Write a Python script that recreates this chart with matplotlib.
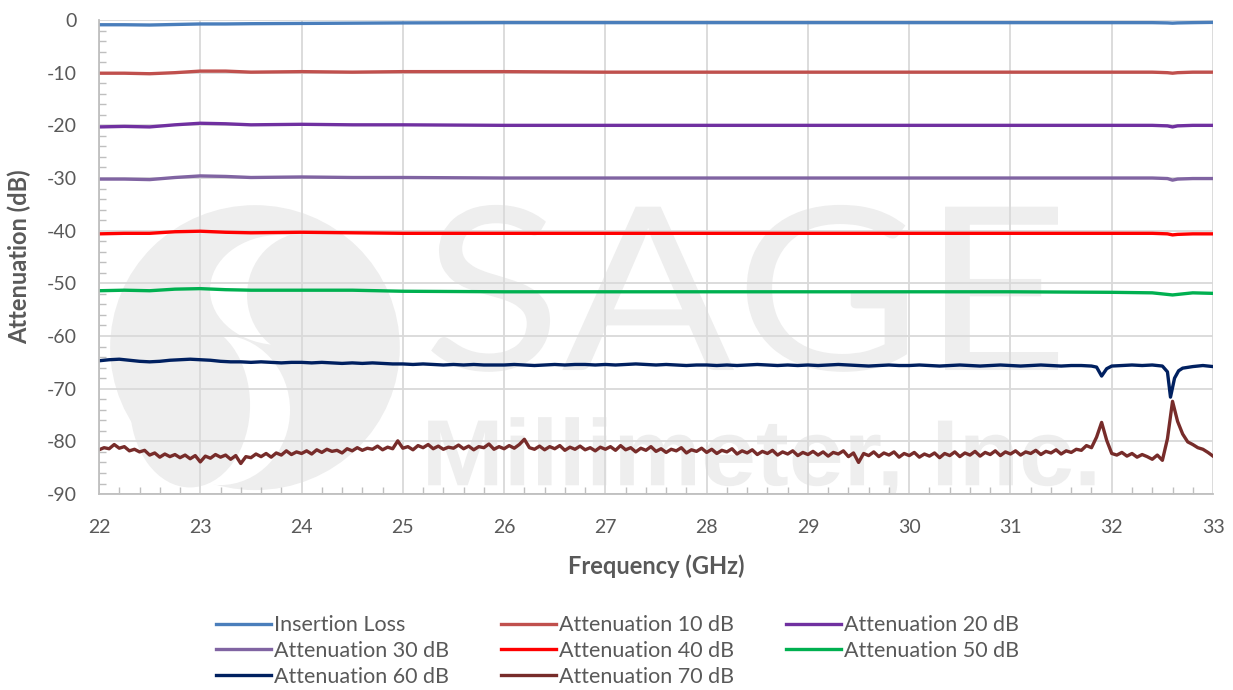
import numpy as np
import matplotlib.pyplot as plt
from matplotlib.patches import Ellipse, PathPatch
from matplotlib.textpath import TextPath
from matplotlib.font_manager import FontProperties
from matplotlib.transforms import Affine2D
from matplotlib.ticker import MultipleLocator

plt.rcParams['font.family'] = ['Lato', 'DejaVu Sans']
plt.rcParams['axes.unicode_minus'] = False

# smooth traces, coarse frequency grid (GHz)
freq_s = [22, 22.25, 22.5, 22.75, 23, 23.25, 23.5, 24, 24.5, 25, 26, 27, 28, 29, 30, 31, 32,
          32.4, 32.55, 32.6, 32.65, 32.8, 33]
il = [-0.9, -0.9, -0.95, -0.85, -0.75, -0.75, -0.7, -0.65, -0.6, -0.55, -0.5, -0.5, -0.5, -0.5,
      -0.5, -0.5, -0.5, -0.5, -0.55, -0.6, -0.55, -0.5, -0.45]
att10 = [-10.1, -10.1, -10.2, -10.0, -9.7, -9.7, -9.9, -9.8, -9.9, -9.8, -9.8, -9.9, -9.9, -9.9,
         -9.9, -9.9, -9.9, -9.9, -10.0, -10.1, -10.0, -9.9, -9.9]
att20 = [-20.3, -20.2, -20.3, -19.9, -19.6, -19.7, -19.9, -19.8, -19.9, -19.9, -20.0, -20.0, -20.0,
         -20.0, -20.0, -20.0, -20.0, -20.0, -20.1, -20.3, -20.1, -20.0, -20.0]
att30 = [-30.2, -30.2, -30.3, -29.9, -29.6, -29.7, -29.9, -29.8, -29.9, -29.9, -30.0, -30.0, -30.0,
         -30.0, -30.0, -30.0, -30.0, -30.0, -30.1, -30.4, -30.2, -30.1, -30.1]
att40 = [-40.6, -40.5, -40.5, -40.2, -40.1, -40.3, -40.4, -40.3, -40.4, -40.5, -40.5, -40.5, -40.5,
         -40.5, -40.5, -40.5, -40.5, -40.5, -40.6, -40.8, -40.7, -40.6, -40.6]
att50 = [-51.4, -51.3, -51.4, -51.1, -51.0, -51.2, -51.3, -51.3, -51.3, -51.5, -51.6, -51.6, -51.6,
         -51.6, -51.6, -51.6, -51.7, -51.8, -52.1, -52.2, -52.1, -51.8, -51.9]

# 60 dB trace
freq60 = list(np.round(np.arange(22, 31.85, 0.1), 2)) + [31.85, 31.9, 31.95, 32.0, 32.1, 32.2, 32.3,
          32.4, 32.5, 32.55, 32.58, 32.62, 32.66, 32.7, 32.8, 32.9, 33.0]
att60 = [-64.7, -64.5, -64.4, -64.6, -64.8, -64.9, -64.8, -64.6, -64.5, -64.4,
         -64.5, -64.6, -64.8, -64.9, -64.9, -65.0, -64.9, -65.0, -65.1, -65.0,
         -65.0, -65.1, -65.0, -65.1, -65.2, -65.1, -65.2, -65.1, -65.2, -65.3,
         -65.3, -65.4, -65.3, -65.4, -65.5, -65.4, -65.5, -65.4, -65.5, -65.5,
         -65.5, -65.4, -65.5, -65.6, -65.5, -65.4, -65.5, -65.4, -65.4, -65.5,
         -65.4, -65.5, -65.4, -65.3, -65.4, -65.5, -65.4, -65.5, -65.6, -65.5,
         -65.5, -65.6, -65.5, -65.6, -65.5, -65.4, -65.5, -65.6, -65.5, -65.6,
         -65.5, -65.6, -65.5, -65.4, -65.5, -65.6, -65.7, -65.6, -65.5, -65.6,
         -65.6, -65.5, -65.6, -65.7, -65.6, -65.5, -65.6, -65.7, -65.6, -65.5,
         -65.6, -65.7, -65.6, -65.5, -65.6, -65.7, -65.6, -65.6, -65.7,
         -65.9, -67.6, -66.2, -65.7, -65.6, -65.5, -65.6, -65.5, -65.7, -66.8, -71.6, -68.0, -66.6,
         -66.1, -65.8, -65.6, -65.8]

# 70 dB trace, 0.05 GHz steps
freq70 = np.round(np.arange(22, 33.001, 0.05), 2)
att70 = [-81.6, -81.2, -81.4, -80.6, -81.3, -81.0, -81.8, -81.5, -82.0, -81.7, -82.6, -82.2, -83.0, -82.4, -82.9, -82.5, -83.1, -82.6, -83.3, -82.7,
         -83.9, -82.8, -83.2, -82.5, -83.0, -82.6, -83.4, -82.7, -84.2, -82.9, -83.1, -82.4, -82.9, -82.3, -83.0, -82.2, -82.6, -81.8, -82.5, -82.0,
         -82.3, -81.8, -82.4, -81.6, -82.1, -81.5, -81.9, -81.7, -82.2, -81.4, -81.8, -81.2, -81.7, -81.3, -81.5, -80.9, -81.6, -81.1, -81.4, -79.9,
         -81.3, -81.0, -81.6, -80.8, -81.2, -80.6, -81.4, -80.9, -81.5, -81.1, -81.3, -80.7, -81.4, -80.9, -81.6, -81.0, -81.2, -80.5, -81.5, -81.0,
         -81.4, -80.8, -81.3, -80.6, -79.6, -81.2, -81.5, -80.9, -81.6, -81.0, -81.4, -80.8, -81.7, -81.1, -81.5, -80.9, -81.6, -81.2, -81.8, -81.1,
         -81.5, -81.0, -81.7, -80.8, -81.6, -81.2, -82.0, -81.3, -81.7, -81.0, -81.9, -81.4, -82.1, -81.5, -81.8, -81.2, -82.2, -81.6, -81.9, -81.3,
         -82.1, -81.5, -82.3, -81.7, -82.0, -81.4, -82.4, -81.8, -82.2, -81.6, -82.5, -81.9, -82.3, -81.7, -82.6, -82.0, -82.4, -81.8, -82.7, -82.1,
         -82.5, -81.9, -82.6, -82.0, -82.8, -82.1, -82.4, -81.8, -82.9, -82.2, -84.0, -82.3, -82.7, -82.0, -82.9, -82.2, -82.6, -82.0, -83.0, -82.3,
         -82.7, -82.1, -83.0, -82.4, -82.8, -82.2, -83.1, -82.3, -82.7, -82.0, -82.9, -82.2, -82.6, -81.9, -82.8, -82.1, -82.5, -81.8, -82.7, -82.0,
         -82.4, -81.8, -82.6, -82.0, -82.3, -81.7, -82.5, -81.9, -82.2, -81.6, -82.4, -81.8, -82.1, -81.5, -81.7, -80.8, -81.2, -79.2, -76.4, -79.8,
         -82.3, -82.6, -82.1, -82.8, -82.3, -83.0, -82.5, -82.9, -83.4, -82.6, -83.6, -79.5, -72.4, -76.2, -78.6, -80.1, -80.6, -81.2, -81.5, -82.1,
         -82.8]

fig, ax = plt.subplots(figsize=(12.33, 6.9), dpi=100)
fig.subplots_adjust(left=0.0803, right=0.9838, top=0.971, bottom=0.284)


def text_in_box(s, prop, x0, x1, y0, y1, color):
    # stretch a text outline so it fills a box given in data coordinates
    tp = TextPath((0, 0), s, size=1, prop=prop)
    bb = tp.get_extents()
    tr = Affine2D().translate(-bb.x0, -bb.y0).scale((x1 - x0) / bb.width, (y1 - y0) / bb.height)
    tr = tr.translate(x0, y0)
    ax.add_patch(PathPatch(tr.transform_path(tp), color=color, lw=0, zorder=0))


# watermark logo: grey disc with a white S-shaped swirl
wm = '#eeeeee'
ax.add_patch(Ellipse((23.54, -62.2), 2.86, 54.1, color=wm, zorder=0, lw=0))
ax.add_patch(Ellipse((23.195, -74.05), 1.382, 28.5, color='white', zorder=0, lw=0))
ax.add_patch(Ellipse((22.899, -73.10), 1.185, 31.3, color=wm, zorder=0, lw=0))
ax.add_patch(Ellipse((23.787, -51.26), 1.382, 20.9, color='white', zorder=0, lw=0))
ax.add_patch(Ellipse((24.054, -52.21), 1.185, 23.7, color=wm, zorder=0, lw=0))
text_in_box('SAGE', FontProperties(family='Lato', weight='normal'), 25.28, 31.47, -66.8, -35.1, wm)
text_in_box('Millimeter, Inc.', FontProperties(family='Liberation Sans', weight='bold'),
            25.25, 31.83, -91.1, -75.4, wm)

lw = 2.4
series = [
    (freq_s, il, '#4a7ebb', 'Insertion Loss'),
    (freq_s, att10, '#c0504d', 'Attenuation 10 dB'),
    (freq_s, att20, '#7030a0', 'Attenuation 20 dB'),
    (freq_s, att30, '#8064a2', 'Attenuation 30 dB'),
    (freq_s, att40, '#ff0000', 'Attenuation 40 dB'),
    (freq_s, att50, '#00b050', 'Attenuation 50 dB'),
    (freq60, att60, '#002060', 'Attenuation 60 dB'),
    (freq70, att70, '#772c2a', 'Attenuation 70 dB'),
]
lines = []
for x, y, c, lab in series:
    ln, = ax.plot(x, y, color=c, lw=lw, label=lab)
    lines.append(ln)

ax.set_xlim(22, 33)
ax.set_ylim(-90, 0)
ax.xaxis.set_major_locator(MultipleLocator(1))
ax.yaxis.set_major_locator(MultipleLocator(10))
ax.xaxis.set_minor_locator(MultipleLocator(0.2))
ax.yaxis.set_minor_locator(MultipleLocator(2))
ax.grid(True, which='major', color='#d9d9d9', lw=1.3)
ax.set_axisbelow(True)
for s in ['top', 'right']:
    ax.spines[s].set_visible(False)
for s in ['left', 'bottom']:
    ax.spines[s].set_color('#bfbfbf')
    ax.spines[s].set_linewidth(1.3)
ax.tick_params(which='major', length=0, labelsize=14, labelcolor='#595959')
ax.tick_params(axis='x', which='major', pad=18)
ax.tick_params(axis='y', which='major', pad=16)
ax.tick_params(which='minor', direction='in', length=5, color='#bfbfbf', width=1)

ax.set_xlabel('Frequency (GHz)', fontsize=17, fontweight='bold', color='#595959')
ax.set_ylabel('Attenuation (dB)', fontsize=17, fontweight='bold', color='#595959')
ax.xaxis.set_label_coords(0.5, -0.128)
ax.yaxis.set_label_coords(-0.061, 0.5)

# legend filled row by row like the original
order = [0, 3, 6, 1, 4, 7, 2, 5]
leg = fig.legend([lines[i] for i in order], [series[i][3] for i in order],
                 loc='center', bbox_to_anchor=(0.5008, 0.0565), ncol=3, frameon=False,
                 fontsize=15.5, handlelength=2.55, handletextpad=0.15, columnspacing=2.4,
                 labelspacing=0.26, borderpad=0)
for t in leg.get_texts():
    t.set_color('#595959')

fig.savefig('out.png', dpi=100)
